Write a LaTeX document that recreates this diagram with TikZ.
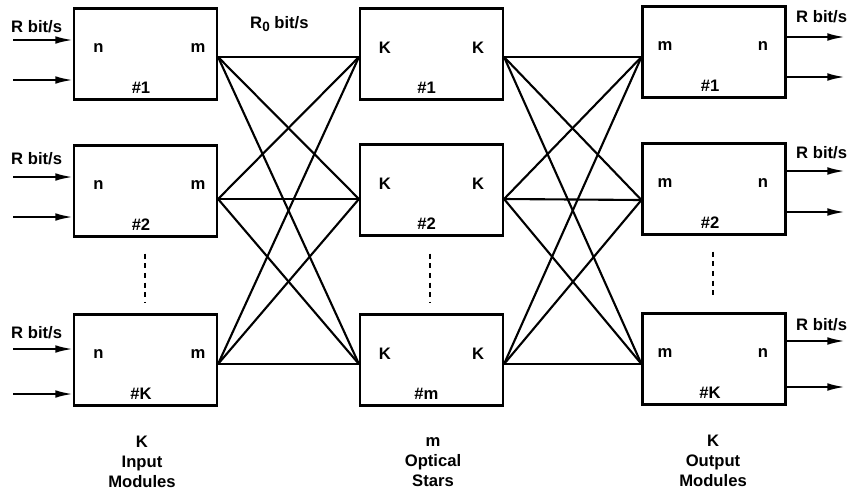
\documentclass[tikz,border=0pt]{standalone}
\usepackage{fontspec}
\setmainfont{Liberation Sans}
\usetikzlibrary{calc, arrows.meta}
\tikzset{
	modbox/.style={draw, line width=1.8pt, minimum width=4.29cm, minimum height=2.73cm, inner sep=0pt}
}
\tikzset{
	boxtext/.style={font=\fontsize{14.2}{17}\selectfont\bfseries, inner sep=0pt}
}
\tikzset{
	link/.style={line width=1.8pt},
	ioarrow/.style={line width=1.8pt, -{Latex[length=15pt,width=6.5pt]}},
	vdots/.style={line width=1.8pt, dash pattern=on 0.15cm off 0.14cm}
}

\begin{document}
\begin{tikzpicture}[x=0.03cm, y=-0.03cm]
      \useasboundingbox (0,0) rectangle (850,493);
      % input modules
      \foreach \r/\y/\c/\t/\a/\b/\l in {1/54/57/1/40/80/27, 2/191/199/2/177/217/159, 3/360/364/K/349/394/333} {
        \node[modbox] (in\r) at (145.5,\y) {};
        \node[boxtext] at ($(in\r.center)+(-47,-6)$) {n};
        \node[boxtext] at ($(in\r.center)+(52.5,-6)$) {m};
        \node[boxtext] at ($(in\r.center)+(-4.5,34)$) {\#\t};
        \coordinate (in\r-o) at (in\r.east |- 0,\c);
        \draw[ioarrow] (13,\a) -- (in\r.west |- 0,\a);
        \draw[ioarrow] (13,\b) -- (in\r.west |- 0,\b);
        \node[boxtext, anchor=west] at (11,\l) {R bit/s};
      }
      % optical stars
      \foreach \r/\y/\c/\t in {1/54/57/1, 2/190/199/2, 3/360/364/m} {
        \node[modbox] (st\r) at (431.5,\y) {};
        \node[boxtext] at ($(st\r.center)+(-46.5,-6.5)$) {K};
        \node[boxtext] at ($(st\r.center)+(46.5,-6.5)$) {K};
        \node[boxtext] at ($(st\r.center)+(-5,34)$) {\#\t};
        \coordinate (st\r-i) at (st\r.west |- 0,\c);
        \coordinate (st\r-o) at (st\r.east |- 0,\c);
      }
      % output modules
      \foreach \r/\y/\c/\t/\a/\b/\l in {1/52/57/1/37/77/17, 2/189/200/2/171/212/153, 3/359/364/K/341/387/325} {
        \node[modbox] (out\r) at (714,\y) {};
        \node[boxtext] at ($(out\r.center)+(-49,-6)$) {m};
        \node[boxtext] at ($(out\r.center)+(49,-6)$) {n};
        \node[boxtext] at ($(out\r.center)+(-4,34)$) {\#\t};
        \coordinate (out\r-i) at (out\r.west |- 0,\c);
        \draw[ioarrow] (out\r.east |- 0,\a) -- (845,\a);
        \draw[ioarrow] (out\r.east |- 0,\b) -- (845,\b);
        \node[boxtext, anchor=west] at (796,\l) {R bit/s};
      }
      % full interconnection
      \foreach \i in {1,2,3} {
        \foreach \j in {1,2,3} {
          \draw[link] (in\i-o) -- (st\j-i);
          \draw[link] (st\i-o) -- (out\j-i);
        }
      }
      \node[boxtext, anchor=west] at (250,24) {R\raisebox{-0.35ex}{\fontsize{11.5}{11.5}\selectfont 0} bit/s};
      % dots between rows
      \draw[vdots] ($(in2.south)+(-0.5,16)$) -- ($(in3.north)+(-0.5,-11)$);
      \draw[vdots] ($(st2.south)+(-1.5,17)$) -- ($(st3.north)+(-1.5,-11)$);
      \draw[vdots] ($(out2.south)+(-1,16)$) -- ($(out3.north)+(-1,-13)$);
      % column captions
      \node[boxtext, align=center] (capin) at (142,462) {K\\Input\\Modules};
      \node[boxtext, align=center] (capst) at (433,462) {m\\Optical\\Stars};
      \node[boxtext, align=center] (capout) at (713,461) {K\\Output\\Modules};
    \end{tikzpicture}
\end{document}
